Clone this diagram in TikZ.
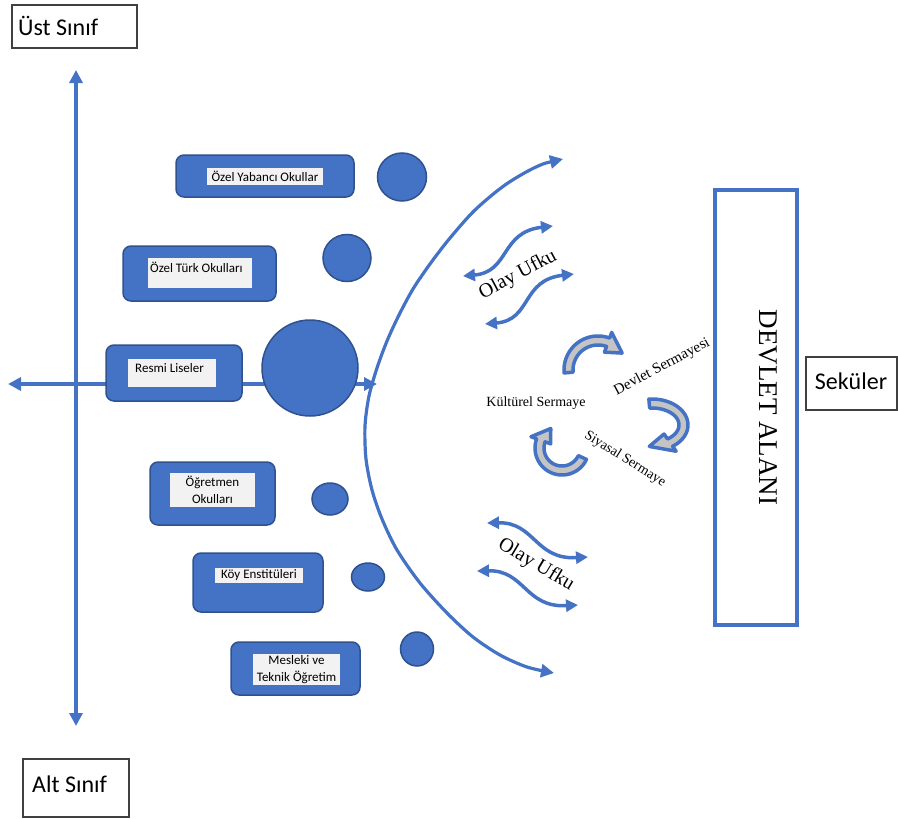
\documentclass[tikz,border=0pt]{standalone}
\usepackage{fontspec}
\setmainfont{Liberation Serif}
\newfontfamily\carl{Carlito}
\usetikzlibrary{arrows.meta,shapes.geometric}
\definecolor{bl}{HTML}{4472C4}
\definecolor{bd}{HTML}{2F528F}
\definecolor{lg}{HTML}{F2F2F2}
\definecolor{gr}{HTML}{C4C4C4}
\definecolor{kb}{HTML}{404040}
\newcommand\cbarrow[9]{%
  \filldraw[draw=bl, fill=gr, line width=3.5pt, line join=round]
    plot[domain=#7:#8, samples=30] ({#1+#3*cos(\x)},{#2+#4*sin(\x)})
    -- ({#1+(#3+6)*cos(#8)},{#2+(#4+6)*sin(#8)})
    -- ({#1+(#3+#5)/2*cos(#9)},{#2+(#4+#6)/2*sin(#9)})
    -- ({#1+(#5-6)*cos(#8)},{#2+(#6-6)*sin(#8)})
    -- plot[domain=#8:#7, samples=30] ({#1+#5*cos(\x)},{#2+#6*sin(\x)})
    -- cycle;}
\begin{document}
\begin{tikzpicture}[x=1pt,y=-1pt,
  >={Triangle[length=13pt,width=13pt]},
  axisline/.style={draw=bl, line width=3.5pt},
  bigarc/.style={draw=bl, line width=3.2pt},
  wave/.style={draw=bl, line width=3.5pt, >={Triangle[length=12pt,width=12pt]}},
  bluebox/.style={draw=bd, fill=bl, line width=1.5pt, rounded corners=8pt, inner sep=0pt},
  lblbox/.style={fill=lg, draw=none, inner sep=0pt},
  lbltext/.style={font=\carl\fontsize{13}{17}\selectfont, align=center, inner sep=0pt},
  blob/.style={draw=bd, fill=bl, line width=1.5pt, ellipse, inner sep=0pt},
  classbox/.style={draw=kb, line width=1.3pt, inner sep=0pt},
  classtext/.style={font=\carl\fontsize{24}{28}\selectfont, inner sep=0pt},
  serif/.style={inner sep=0pt}]
\useasboundingbox (0,0) rectangle (898,819);

% axes
\coordinate (vt) at (76,70);
\coordinate (vb) at (76,726);
\draw[axisline,<->] (vt) -- (vb);
\coordinate (hl) at (8,384);
\coordinate (hr) at (377,384);
\draw[axisline,<->] (hl) -- (hr);

% big arc
\draw[bigarc,<->] plot[smooth, tension=0.5] coordinates {(563,159) (536,167) (505,185) (475,210) (450,238) (430,264) (413,289) (399,315) (387,341) (377,368) (369,396) (365,426) (366,459) (372,490) (382,519) (397,550) (420,583) (447,613) (473,637) (500,655) (527,667) (554,673)};

% school boxes
\node[bluebox, minimum width=178pt, minimum height=42pt] (b1) at (265,176) {};
\node[bluebox, minimum width=153pt, minimum height=55pt] (b2) at (199.5,273.5) {};
\node[bluebox, minimum width=136pt, minimum height=56pt] (b3) at (174,373) {};
\node[bluebox, minimum width=125pt, minimum height=63pt] (b4) at (212.5,493.5) {};
\node[bluebox, minimum width=130pt, minimum height=59pt] (b5) at (258,582.5) {};
\node[bluebox, minimum width=129pt, minimum height=53pt] (b6) at (295.5,668.5) {};

\node[lblbox, minimum width=116pt, minimum height=17pt] (l1) at (265,176.5) {};
\node[lblbox, minimum width=104pt, minimum height=30pt] (l2) at (200,273) {};
\node[lblbox, minimum width=88pt, minimum height=28pt] (l3) at (172,373) {};
\node[lblbox, minimum width=85pt, minimum height=34pt] (l4) at (212.5,490) {};
\node[lblbox, minimum width=88pt, minimum height=15pt] (l5) at (259,575.5) {};
\node[lblbox, minimum width=87pt, minimum height=31pt] (l6) at (296.5,669.5) {};

\node[lbltext] (t1) at (l1.center) {Özel Yabancı Okullar};
\node[lbltext, anchor=base west] (t2) at (150,272) {Özel Türk Okulları};
\node[lbltext, anchor=base west] (t3) at (135,372) {Resmi Liseler};
\node[lbltext] (t4) at (l4.center) {Öğretmen\\Okulları};
\node[lbltext] (t5) at (l5.center) {Köy Enstitüleri};
\node[lbltext] (t6) at (l6.center) {Mesleki ve\\Teknik Öğretim};

% blobs
\node[blob, minimum width=49pt, minimum height=48pt] (c1) at (402,177) {};
\node[blob, minimum width=48pt, minimum height=47pt] (c2) at (347,258) {};
\node[blob, minimum width=96pt, minimum height=96pt] (c3) at (310,368) {};
\node[blob, minimum width=36pt, minimum height=32pt] (c4) at (330,499) {};
\node[blob, minimum width=33pt, minimum height=28pt] (c5) at (368,577) {};
\node[blob, minimum width=33pt, minimum height=34pt] (c6) at (417,649) {};

% wave arrows
\coordinate (w1a) at (463,276); \coordinate (w1b) at (553,226);
\draw[wave,<->] (w1a) .. controls +(47,-4) and +(-53,6) .. (w1b);
\coordinate (w2a) at (485,324); \coordinate (w2b) at (574,274);
\draw[wave,<->] (w2a) .. controls +(47,-4) and +(-53,6) .. (w2b);
\coordinate (w3a) at (487,523); \coordinate (w3b) at (588,557);
\draw[wave,<->] (w3a) .. controls +(48,-1) and +(-53,3) .. (w3b);
\coordinate (w4a) at (477,571); \coordinate (w4b) at (578,605);
\draw[wave,<->] (w4a) .. controls +(48,-1) and +(-53,3) .. (w4b);

\node[serif, rotate=28, font=\fontsize{20}{24}\selectfont] (ou1) at (518,275) {Olay Ufku};
\node[serif, rotate=-31, font=\fontsize{20}{24}\selectfont] (ou2) at (536,565) {Olay Ufku};

% capital cycle
\cbarrow{598}{370}{34}{34}{25}{25}{175}{290}{325}
\cbarrow{652}{425}{36}{26}{27}{17}{265}{415}{455}
\cbarrow{562}{448}{27}{27}{18}{18}{25}{200}{240}

\node[serif, font=\fontsize{14}{16}\selectfont] (ks) at (536,403) {Kültürel Sermaye};
\node[serif, rotate=28, font=\fontsize{15}{17}\selectfont] (ds) at (662,367) {Devlet Sermayesi};
\node[serif, rotate=-32, font=\fontsize{14}{16}\selectfont] (ss) at (625,459) {Siyasal Sermaye};

% state area
\node[draw=bl, line width=4pt, minimum width=82pt, minimum height=435pt, inner sep=0pt] (da) at (756,407.5) {};
\node[serif, rotate=-90, font=\fontsize{27}{30}\selectfont] (dat) at (768,407.5) {DEVLET ALANI};

% class boxes
\node[classbox, minimum width=125pt, minimum height=43pt] (ust) at (74.5,26.5) {};
\node[classtext, anchor=base west] (ustt) at (18,35) {Üst Sınıf};
\node[classbox, minimum width=106pt, minimum height=58pt] (alt) at (76,788) {};
\node[classtext, anchor=base west] (altt) at (32,792) {Alt Sınıf};
\node[classbox, minimum width=91pt, minimum height=53pt] (sek) at (851.5,383.5) {};
\node[classtext] (sekt) at (851,381) {Seküler};
\end{tikzpicture}
\end{document}
